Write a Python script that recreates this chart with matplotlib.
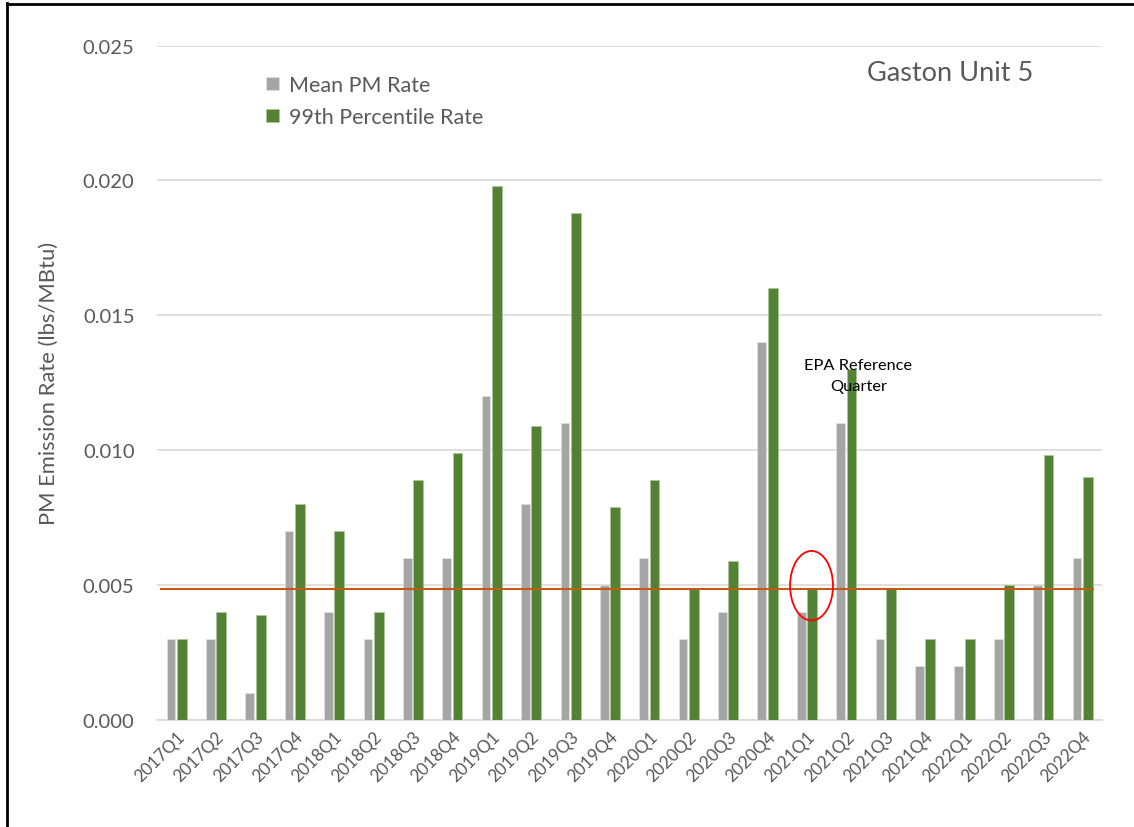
import matplotlib
matplotlib.use("Agg")
import matplotlib.pyplot as plt
from matplotlib.patches import Ellipse
from matplotlib.lines import Line2D
import numpy as np

quarters = ["2017Q1", "2017Q2", "2017Q3", "2017Q4",
            "2018Q1", "2018Q2", "2018Q3", "2018Q4",
            "2019Q1", "2019Q2", "2019Q3", "2019Q4",
            "2020Q1", "2020Q2", "2020Q3", "2020Q4",
            "2021Q1", "2021Q2", "2021Q3", "2021Q4",
            "2022Q1", "2022Q2", "2022Q3", "2022Q4"]
mean_pm = [0.003, 0.003, 0.001, 0.007,
           0.004, 0.003, 0.006, 0.006,
           0.012, 0.008, 0.011, 0.005,
           0.006, 0.003, 0.004, 0.014,
           0.004, 0.011, 0.003, 0.002,
           0.002, 0.003, 0.005, 0.006]
p99 = [0.003, 0.004, 0.0039, 0.008,
       0.007, 0.004, 0.0089, 0.0099,
       0.0198, 0.0109, 0.0188, 0.0079,
       0.0089, 0.0049, 0.0059, 0.016,
       0.0049, 0.013, 0.0049, 0.003,
       0.003, 0.005, 0.0098, 0.009]
reference_level = 0.00485
reference_quarter = "2021Q1"
yticks = [0.000, 0.005, 0.010, 0.015, 0.020, 0.025]

plt.rcParams['font.family'] = ['Lato', 'DejaVu Sans']
txt = "#595959"

fig = plt.figure(figsize=(11.34, 8.28), dpi=100)
ax = fig.add_axes([0.1383, 0.1296, 0.8337, 0.8140])

x = np.arange(len(quarters))
ax.bar(x - 0.142, mean_pm, width=0.22, color="#A5A5A5", edgecolor="#E0E0E0",
       linewidth=0.6, label="Mean PM Rate", zorder=3)
ax.bar(x + 0.134, p99, width=0.25, color="#548235", edgecolor="#A9C79A",
       linewidth=0.6, label="99th Percentile Rate", zorder=3)

ax.plot([-0.39, len(quarters) - 1 + 0.27], [reference_level, reference_level],
        color="#C55A11", linewidth=1.5, zorder=4)

ri = quarters.index(reference_quarter)
ax.add_patch(Ellipse((ri + 0.12, 0.00497), 1.09, 0.00258, fill=False,
                     edgecolor="red", linewidth=1.3, zorder=5))
ax.text(17.31, 0.01277, "EPA Reference\nQuarter", ha="center", va="center",
        fontsize=11.8, color="black", linespacing=1.65, zorder=6)

ax.set_xlim(-0.5, len(quarters) - 0.5)
ax.set_ylim(0, 0.025)
ax.set_yticks(yticks)
ax.set_yticklabels([f"{v:.3f}" for v in yticks])
ax.set_xticks(x)
ax.set_xticklabels(quarters, rotation=45, ha="right", rotation_mode="anchor")
ax.tick_params(axis="y", length=0, labelsize=14.5, labelcolor=txt, pad=16)
ax.tick_params(axis="x", length=0, labelsize=12.3, labelcolor=txt, pad=6)
ax.grid(axis="y", color="#D9D9D9", linewidth=1.2, zorder=0)
ax.set_axisbelow(True)
for s in ["top", "right", "left"]:
    ax.spines[s].set_visible(False)
ax.spines["bottom"].set_color("#D9D9D9")
ax.spines["bottom"].set_linewidth(1.2)

ax.set_ylabel("PM Emission Rate (lbs/MBtu)", fontsize=15.8, color=txt, labelpad=17)

leg = ax.legend(loc="upper left", bbox_to_anchor=(0.095, 0.985), frameon=False,
                fontsize=15.5, labelcolor=txt, handlelength=0.6, handleheight=0.6,
                handletextpad=0.45, labelspacing=0.55)

fig.text(0.838, 0.911, "Gaston Unit 5", fontsize=19.5, color=txt, ha="center", va="center")

# frame lines of the screenshot
fig.add_artist(Line2D([0.0062, 0.0062], [0, 0.995], transform=fig.transFigure,
                      color="black", linewidth=2))
fig.add_artist(Line2D([0.0062, 1.0], [0.9945, 0.9945], transform=fig.transFigure,
                      color="black", linewidth=2))

fig.savefig("out.png", dpi=100)
